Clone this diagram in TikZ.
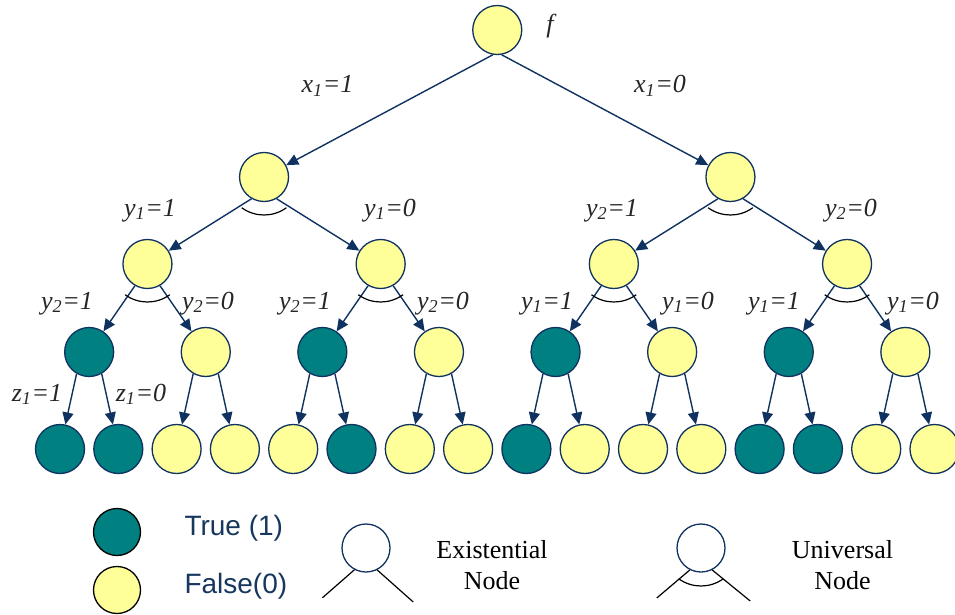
\documentclass[tikz,border=0pt]{standalone}
\usepackage{fontspec}
\setmainfont{Liberation Serif}
\newfontfamily\legendfont{Liberation Sans}
\usetikzlibrary{arrows.meta}

\definecolor{truegreen}{RGB}{0,128,128}
\definecolor{falseyellow}{RGB}{255,255,153}
\definecolor{nodeblue}{RGB}{16,50,96}
\definecolor{legendblue}{RGB}{23,55,94}

\begin{document}
\begin{tikzpicture}[
  x=1pt,y=-1pt,
  vnode/.style={circle,draw=nodeblue,line width=1.3pt,minimum size=49pt,inner sep=0pt},
  tnode/.style={vnode,fill=truegreen},
  fnode/.style={vnode,fill=falseyellow},
  edge/.style={draw=nodeblue,line width=1.4pt,-{Triangle[length=12pt,width=11pt]}},
  lab/.style={font=\fontsize{26}{30}\selectfont\itshape,anchor=base,text=black!85},
  uarc/.style={line width=1.2pt},
  legtext/.style={font=\fontsize{28}{30}\selectfont\legendfont,text=legendblue,anchor=base west},
  keytext/.style={font=\fontsize{26}{30}\selectfont,anchor=base},
]
  \useasboundingbox (0,0) rectangle (955,615);

  % Tree levels 0 to 2
  \node[fnode] (root) at (497.25,30) {};
  \node[lab] (flab) at (550,33) {f};
  \node[fnode] (na) at (264.05,177) {};
  \node[fnode] (nb) at (730.45,177) {};
  \node[fnode] (naa) at (147.45,264) {};
  \node[fnode] (nab) at (380.65,264) {};
  \node[fnode] (nba) at (613.85,264) {};
  \node[fnode] (nbb) at (847.05,264) {};

  % Level 3 and leaves
  \foreach \i/\s in {1/tnode,2/fnode,3/tnode,4/fnode,5/tnode,6/fnode,7/tnode,8/fnode}
    \node[\s] (c\i) at ({89.15+116.6*(\i-1)},352) {};
  \foreach \i/\s in {1/tnode,2/tnode,3/fnode,4/fnode,5/fnode,6/tnode,7/fnode,8/fnode,
                     9/tnode,10/fnode,11/fnode,12/fnode,13/tnode,14/tnode,15/fnode,16/fnode}
    \node[\s] (d\i) at ({60+58.3*(\i-1)},449) {};

  % Connectors
  \draw[edge] (root.-100) -- (na);
  \draw[edge] (root.-80) -- (nb);
  \draw[edge] (na.-120) -- (naa);
  \draw[edge] (na.-60) -- (nab);
  \draw[edge] (nb.-120) -- (nba);
  \draw[edge] (nb.-60) -- (nbb);
  \draw[edge] (naa.-120) -- (c1);
  \draw[edge] (naa.-60) -- (c2);
  \draw[edge] (nab.-120) -- (c3);
  \draw[edge] (nab.-60) -- (c4);
  \draw[edge] (nba.-120) -- (c5);
  \draw[edge] (nba.-60) -- (c6);
  \draw[edge] (nbb.-120) -- (c7);
  \draw[edge] (nbb.-60) -- (c8);
  \foreach \i in {1,...,8} {
    \pgfmathtruncatemacro\lft{2*\i-1}
    \pgfmathtruncatemacro\rgt{2*\i}
    \draw[edge] (c\i.-120) -- (d\lft);
    \draw[edge] (c\i.-60) -- (d\rgt);
  }

  % Universal arcs
  \foreach \n in {na,nb,naa,nab,nba,nbb}
    \draw[uarc] (\n) ++(234:38pt) arc[start angle=234,end angle=306,radius=38pt];

  % Edge labels
  \node[lab] (lx1a) at (327.5,93) {x\textsubscript{1}=1};
  \node[lab] (lx1b) at (660,93) {x\textsubscript{1}=0};
  \node[lab] (ly1a) at (150,216) {y\textsubscript{1}=1};
  \node[lab] (ly1b) at (390,216) {y\textsubscript{1}=0};
  \node[lab] (ly2a) at (612,216) {y\textsubscript{2}=1};
  \node[lab] (ly2b) at (851,216) {y\textsubscript{2}=0};
  \node[lab] (l1) at (67,309) {y\textsubscript{2}=1};
  \node[lab] (l2) at (208,309) {y\textsubscript{2}=0};
  \node[lab] (l3) at (305,309) {y\textsubscript{2}=1};
  \node[lab] (l4) at (443,309) {y\textsubscript{2}=0};
  \node[lab] (l5) at (547,309) {y\textsubscript{1}=1};
  \node[lab] (l6) at (688,309) {y\textsubscript{1}=0};
  \node[lab] (l7) at (774,309) {y\textsubscript{1}=1};
  \node[lab] (l8) at (913,309) {y\textsubscript{1}=0};
  \node[lab] (lz1) at (37,401) {z\textsubscript{1}=1};
  \node[lab] (lz0) at (141,401) {z\textsubscript{1}=0};

  % Legend
  \node[tnode,draw=black,minimum size=47pt] (ltrue) at (117,532) {};
  \node[fnode,draw=black,minimum size=47pt] (lfalse) at (117,590) {};
  \node[legtext] (ttrue) at (181,535) {True (1)};
  \node[legtext] (tfalse) at (181,593) {False(0)};

  \node[vnode,minimum size=48pt] (lex) at (366,548) {};
  \draw[uarc] (lex.-118) -- ++(-32,28);
  \draw[uarc] (lex.-63) -- ++(36,32);
  \node[keytext] (ex1) at (492,558) {Existential};
  \node[keytext] (ex2) at (492,589) {Node};

  \node[vnode,minimum size=48pt] (lun) at (701,548) {};
  \draw[uarc] (lun.-117) -- ++(-33,28);
  \draw[uarc] (lun.-63) -- ++(38,31);
  \draw[uarc] (lun) ++(234:38pt) arc[start angle=234,end angle=306,radius=38pt];
  \node[keytext] (un1) at (842.5,558) {Universal};
  \node[keytext] (un2) at (842.5,589) {Node};
\end{tikzpicture}
\end{document}
